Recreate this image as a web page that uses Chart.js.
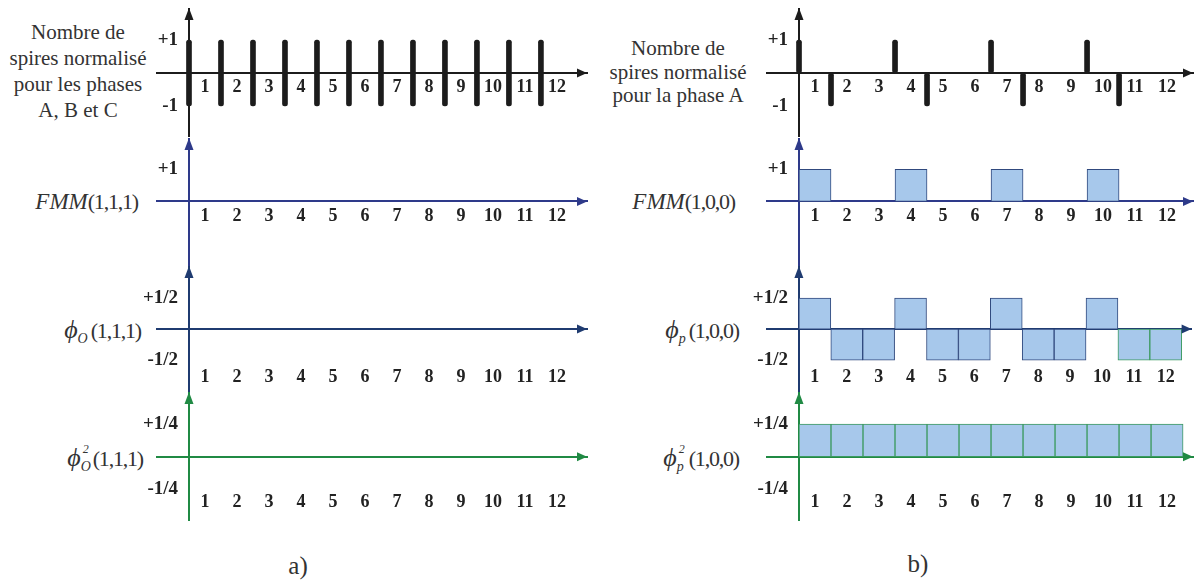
<!DOCTYPE html>
<html><head><meta charset="utf-8">
<script src="https://cdn.jsdelivr.net/npm/chart.js@4.4.0/dist/chart.umd.min.js"></script>
<style>
html,body{margin:0;padding:0;background:#fff;width:1194px;height:581px;overflow:hidden;position:relative;}
canvas{position:absolute;}
.lbl{position:absolute;font-family:"Liberation Serif","Times New Roman",serif;color:#333;font-size:21px;white-space:nowrap;line-height:26px;}
.r{text-align:right;}
.c{text-align:center;}
.it{font-style:italic;font-size:23px;}
.num{letter-spacing:-1.2px;font-size:22px;}
.phi{font-style:italic;font-size:26px;}
.sb{font-style:italic;font-size:14px;position:relative;top:5px;margin-right:3px;}
.ss{display:inline-block;position:relative;width:12px;height:20px;vertical-align:baseline;}
.ss .sp{position:absolute;left:2px;top:-10px;font-size:12px;font-style:italic;}
.ss .sb2{position:absolute;left:0;top:8px;font-size:14px;font-style:italic;}
.cap{font-size:25px;}
</style></head><body>

<div class="lbl c" style="left:0;width:156px;top:19px;">Nombre de<br>spires normalisé<br>pour les phases<br>A, B et C</div>
<div class="lbl r" style="left:0;width:138px;top:189px;"><span class="it">FMM</span><span class="num">(1,1,1)</span></div>
<div class="lbl r" style="left:0;width:141px;top:317px;"><span class="phi">ϕ</span><span class="sb">O</span><span class="num">(1,1,1)</span></div>
<div class="lbl r" style="left:0;width:143px;top:445px;"><span class="phi">ϕ</span><span class="ss"><span class="sp">2</span><span class="sb2">O</span></span><span class="num">(1,1,1)</span></div>
<div class="lbl c cap" style="left:248px;width:100px;top:553px;">a)</div>

<div class="lbl c" style="left:600px;width:156px;top:37px;line-height:23.5px;">Nombre de<br>spires normalisé<br>pour la phase A</div>
<div class="lbl r" style="left:600px;width:135px;top:189px;"><span class="it">FMM</span><span class="num">(1,0,0)</span></div>
<div class="lbl r" style="left:600px;width:139px;top:317px;"><span class="phi">ϕ</span><span class="sb">p</span><span class="num">(1,0,0)</span></div>
<div class="lbl r" style="left:600px;width:139px;top:445px;"><span class="phi">ϕ</span><span class="ss"><span class="sp">2</span><span class="sb2">p</span></span><span class="num">(1,0,0)</span></div>
<div class="lbl c cap" style="left:868px;width:100px;top:551px;">b)</div>

<script>
// ---------- data ----------
const slotLabels = ['1','2','3','4','5','6','7','8','9','10','11','12'];

// row 1 : normalised number of turns (spikes at slot boundaries)
const spikePosA  = [0,1,2,3,4,5,6,7,8,9,10,11];
const spikeLowA  = [-1,-1,-1,-1,-1,-1,-1,-1,-1,-1,-1,-1];
const spikeHighA = [1,1,1,1,1,1,1,1,1,1,1,1];
const spikePosB  = [0,1,3,4,6,7,9,10];
const spikeValB  = [1,-1,1,-1,1,-1,1,-1];

// row 2 : FMM
const fmmA = [0,0,0,0,0,0,0,0,0,0,0,0];
const fmmB = [1,0,0,1,0,0,1,0,0,1,0,0];

// row 3 : phi
const phiA = [0,0,0,0,0,0,0,0,0,0,0,0];
const phiB = [0.5,-0.5,-0.5,0.5,-0.5,-0.5,0.5,-0.5,-0.5,0.5,-0.5,-0.5];

// row 4 : phi squared
const phi2A = [0,0,0,0,0,0,0,0,0,0,0,0];
const phi2B = [0.25,0.25,0.25,0.25,0.25,0.25,0.25,0.25,0.25,0.25,0.25,0.25];

// y tick values and labels per row
const yTicks1 = [1,-1],       yLabels1 = ['+1','-1'];
const yTicks2 = [1],          yLabels2 = ['+1'];
const yTicks3 = [0.5,-0.5],   yLabels3 = ['+1/2','-1/2'];
const yTicks4 = [0.25,-0.25], yLabels4 = ['+1/4','-1/4'];

// ---------- styles ----------
const BLACK = '#1c1c1c', NAVY2 = '#2e3a8a', NAVY3 = '#1f3b70', GREEN = '#208a44';
const FILL = '#a7c8eb', EDGE_NAVY = '#30497e', EDGE_GREEN = '#3c9a60';
const PAD = 20;
const XFONT = {family:'"Liberation Serif","Times New Roman",serif', weight:'bold', size:18};
const YFONT = {family:'"Liberation Serif","Times New Roman",serif', weight:'bold', size:19};

const arrowPlugin = {
  id:'arrows',
  afterDraw(chart){
    const o = chart.options.plugins.arrows;
    const {ctx, chartArea:a} = chart;
    const x0 = chart.scales.x.getPixelForValue(0);
    const y0 = chart.scales.y.getPixelForValue(0);
    ctx.save();
    ctx.fillStyle = o.color;
    ctx.beginPath();
    ctx.moveTo(x0, a.top - 1);
    ctx.lineTo(x0 - 4.5, a.top + 11);
    ctx.lineTo(x0 + 4.5, a.top + 11);
    ctx.closePath(); ctx.fill();
    ctx.beginPath();
    ctx.moveTo(a.right, y0);
    ctx.lineTo(a.right - 10, y0 - 4.5);
    ctx.lineTo(a.right - 10, y0 + 4.5);
    ctx.closePath(); ctx.fill();
    ctx.restore();
  }
};

function slotDataset(vals, edge){
  return {
    type:'bar', xAxisID:'x', yAxisID:'y',
    data: vals.map((v,i)=>({x:i+0.5, y:v})),
    backgroundColor: FILL,
    borderColor: edge,
    borderWidth: 1,
    borderSkipped: false,
    barPercentage: 1, categoryPercentage: 1
  };
}

function makeChart(o){
  const cv = document.createElement('canvas');
  const w = o.areaW + 2*PAD, h = o.areaH + 2*PAD;
  cv.width = w; cv.height = h;
  cv.style.width = w+'px'; cv.style.height = h+'px';
  cv.style.left = (o.areaL - PAD)+'px';
  cv.style.top = (o.areaT - PAD)+'px';
  document.body.appendChild(cv);
  new Chart(cv, {
    type:'bar',
    data:{datasets:o.datasets},
    options:{
      responsive:false, animation:false, devicePixelRatio:1,
      layout:{padding:PAD},
      plugins:{legend:{display:false}, tooltip:{enabled:false}, arrows:{color:o.color}},
      scales:{
        x:{
          type:'linear', axis:'x', min:-1, max:o.xmax, position:{y:0}, z:1, offset:false,
          grid:{display:false, drawTicks:false, offset:false},
          border:{display:true, color:o.color, width:2},
          afterBuildTicks:s=>{ s.ticks = slotLabels.map((l,i)=>({value:i+0.5})); },
          ticks:{font:XFONT, color:'#222', padding:o.xpad, autoSkip:false, maxRotation:0,
                 callback:(v,i)=>slotLabels[i]}
        },
        y:{
          type:'linear', axis:'y', min:o.ymin, max:o.ymax, position:{x:0}, z:1,
          grid:{display:false, drawTicks:false},
          border:{display:true, color:o.color, width:2},
          ticks:{display:false}
        },
        yl:{
          type:'linear', axis:'y', min:o.ymin, max:o.ymax, position:{x:-11/32},
          grid:{display:false, drawTicks:false},
          border:{display:false},
          afterBuildTicks:s=>{ s.ticks = o.yt.map(v=>({value:v})); },
          ticks:{font:YFONT, color:'#222', padding:0, autoSkip:false,
                 callback:(v,i)=>o.yl[i]}
        }
      }
    },
    plugins:[arrowPlugin]
  });
}

const colA = {areaL:157, areaW:430, xmax:12.44};
const colB = {areaL:767, areaW:426, xmax:12.31};
const rows = [
  {areaT:9,   areaH:127, ymin:-1.91, ymax:1.94, xpad:4,  color:BLACK, yt:yTicks1, yl:yLabels1},
  {areaT:139, areaH:128, ymin:-2.05, ymax:1.95, xpad:4,  color:NAVY2, yt:yTicks2, yl:yLabels2},
  {areaT:267, areaH:126, ymin:-1.03, ymax:1.0,  xpad:37, color:NAVY3, yt:yTicks3, yl:yLabels3},
  {areaT:393, areaH:127, ymin:-0.487,ymax:0.49, xpad:35, color:GREEN, yt:yTicks4, yl:yLabels4}
];

const spikeStyle = {type:'bar', xAxisID:'x', yAxisID:'y', backgroundColor:BLACK, borderWidth:0,
                    barThickness:5, borderRadius:2.5, borderSkipped:false};

const dsA = [
  [Object.assign({}, spikeStyle, {data: spikePosA.map((p,i)=>({x:p, y:[spikeLowA[i], spikeHighA[i]]}))})],
  [slotDataset(fmmA, EDGE_NAVY)],
  [slotDataset(phiA, EDGE_NAVY)],
  [slotDataset(phi2A, EDGE_GREEN)]
];
const phiBds = slotDataset(phiB, EDGE_NAVY);
phiBds.borderColor = ctx => ctx.dataIndex >= 10 ? EDGE_GREEN : EDGE_NAVY;
const dsB = [
  [Object.assign({}, spikeStyle, {data: spikePosB.map((p,i)=>({x:p, y:[0, spikeValB[i]]}))})],
  [slotDataset(fmmB, EDGE_NAVY)],
  [phiBds],
  [slotDataset(phi2B, EDGE_GREEN)]
];

rows.forEach((r,k)=>{
  makeChart(Object.assign({}, r, colA, {datasets:dsA[k]}));
  makeChart(Object.assign({}, r, colB, {datasets:dsB[k]}));
});
</script>
</body></html>
